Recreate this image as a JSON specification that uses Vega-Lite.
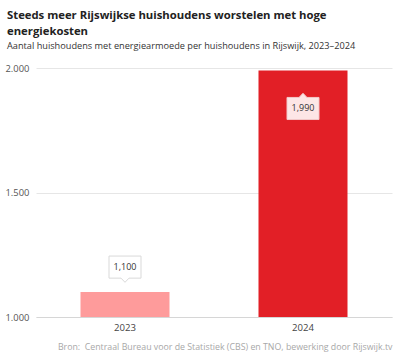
{
  "$schema": "https://vega.github.io/schema/vega-lite/v6.json",
  "width": 356,
  "height": 249,
  "padding": {"left": 5, "right": 8, "top": 9, "bottom": 6},
  "background": "#ffffff",
  "config": {
    "font": "Open Sans",
    "view": {"stroke": null}
  },
  "title": {
    "text": ["Steeds meer Rijswijkse huishoudens worstelen met hoge", "energiekosten"],
    "subtitle": "Aantal huishoudens met energiearmoede per huishoudens in Rijswijk, 2023–2024",
    "anchor": "start",
    "frame": "bounds",
    "dx": 2,
    "font": "Open Sans",
    "fontSize": 11.3,
    "fontWeight": "bold",
    "color": "#222222",
    "lineHeight": 16,
    "subtitleFont": "Open Sans",
    "subtitleFontSize": 9.2,
    "subtitleColor": "#333333",
    "subtitlePadding": 5,
    "offset": 12
  },
  "data": {
    "values": [
      {"jaar": "2023", "aantal": 1100},
      {"jaar": "2024", "aantal": 1990}
    ]
  },
  "encoding": {
    "x": {
      "field": "jaar",
      "type": "nominal",
      "scale": {"paddingInner": 0.5, "paddingOuter": 0.25},
      "axis": {
        "title": "Bron:\u00a0 Centraal Bureau voor de Statistiek (CBS) en TNO, bewerking door Rijswijk.tv",
        "titleAnchor": "end",
        "titleFont": "Open Sans",
        "titleFontSize": 8.8,
        "titleFontWeight": "normal",
        "titleColor": "#a8a8a8",
        "titlePadding": 11,
        "labelAngle": 0,
        "labelFont": "Open Sans",
        "labelFontSize": 9.6,
        "labelColor": "#444444",
        "labelPadding": 5,
        "ticks": false,
        "domainColor": "#d6d6d6",
        "domainWidth": 1
      }
    },
    "y": {
      "field": "aantal",
      "type": "quantitative",
      "scale": {"domain": [1000, 2000], "zero": false, "nice": false},
      "axis": {
        "title": null,
        "values": [1000, 1500, 2000],
        "labelExpr": "replace(format(datum.value, ','), ',', '.')",
        "labelAlign": "left",
        "labelPadding": 31,
        "labelFont": "Open Sans",
        "labelFontSize": 9.4,
        "labelColor": "#555555",
        "ticks": false,
        "domain": false,
        "gridColor": "#e6e6e6",
        "gridWidth": 1
      }
    }
  },
  "layer": [
    {
      "mark": {"type": "bar"},
      "encoding": {
        "y2": {"datum": 1000},
        "color": {
          "field": "jaar",
          "type": "nominal",
          "scale": {"domain": ["2023", "2024"], "range": ["#fe9b9b", "#e21f26"]},
          "legend": null
        }
      }
    },
    {
      "transform": [{"filter": "datum.jaar == '2023'"}],
      "mark": {
        "type": "point",
        "shape": "M-1,-0.69 L1,-0.69 L1,0.69 L0.25,0.69 L0,0.95 L-0.25,0.69 L-1,0.69 Z",
        "size": 1024,
        "filled": true,
        "fill": "#ffffff",
        "stroke": "#d9d9d9",
        "strokeWidth": 1,
        "opacity": 1,
        "yOffset": -25
      }
    },
    {
      "transform": [{"filter": "datum.jaar == '2023'"}],
      "mark": {
        "type": "text",
        "font": "Open Sans",
        "fontSize": 9,
        "color": "#333333",
        "baseline": "middle",
        "yOffset": -25
      },
      "encoding": {"text": {"field": "aantal", "type": "quantitative", "format": ","}}
    },
    {
      "transform": [{"filter": "datum.jaar == '2024'"}],
      "mark": {
        "type": "point",
        "shape": "M-1,-0.69 L-0.25,-0.69 L0,-0.95 L0.25,-0.69 L1,-0.69 L1,0.69 L-1,0.69 Z",
        "size": 1024,
        "filled": true,
        "fill": "#fde6e6",
        "stroke": "#f2c9c9",
        "strokeWidth": 1,
        "opacity": 1,
        "yOffset": 38
      }
    },
    {
      "transform": [{"filter": "datum.jaar == '2024'"}],
      "mark": {
        "type": "text",
        "font": "Open Sans",
        "fontSize": 9,
        "color": "#333333",
        "baseline": "middle",
        "yOffset": 38
      },
      "encoding": {"text": {"field": "aantal", "type": "quantitative", "format": ","}}
    }
  ]
}
